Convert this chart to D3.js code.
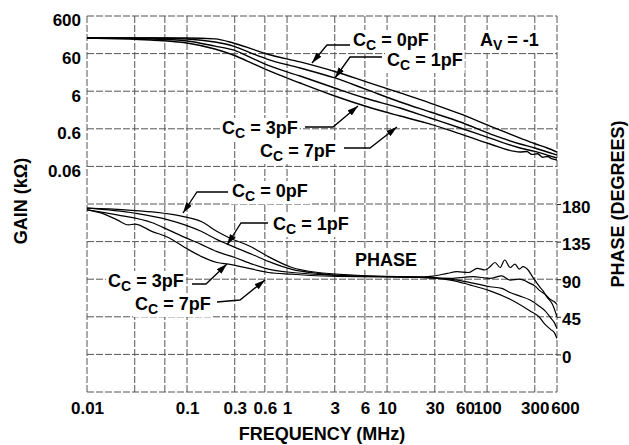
<!DOCTYPE html>
<html>
<head>
<meta charset="utf-8">
<script src="https://cdn.jsdelivr.net/npm/d3@7"></script>
<style>
body { margin:0; background:#fff; }
svg text { font-family:"Liberation Sans", Arial, Helvetica, sans-serif; font-weight:bold; fill:#000; }
</style>
</head>
<body>
<svg id="chart" width="629" height="445"></svg>
<script>

// frequency axis (MHz)
var freqTicks=[0.01,0.1,0.3,0.6,1,3,6,10,30,60,100,300,600];
var freqGrid=[0.03,0.06,0.1,0.3,0.6,1,3,6,10,30,60,100,300];
var gainTicks=[600,60,6,0.6,0.06];
var gainTickLabels=["600","60","6","0.6","0.06"];
var phaseTicks=[180,135,90,45,0];
var capLabels=["0pF","1pF","3pF","7pF"];

// gain curves, kOhm
var gainFreq=[0.01,0.043,0.1,0.19,0.29,0.45,0.63,1.35,3,6,13.5,27,54,107,214,300,400,500];
var gain0pF=[156,156,156,148,115,79,58.5,36,20,11,5.4,2.9,1.49,0.71,0.34,0.24,0.185,0.145];
var gain1pF=[156,156,147,122,95,60,43,24.8,13.5,6.9,3.1,1.68,0.91,0.44,0.237,0.185,0.145,0.121];
var gain3pF=[156,147,130,95,75,45,30,15.2,7.3,3.95,2.14,1.16,0.63,0.34,0.185,0.15,0.12,0.1];
var gain7pFFreq=[0.01,0.043,0.1,0.19,0.29,0.45,0.63,1.35,3,6,13.5,27,54,107,214,250,280,320,360,400,450,500];
var gain7pF=[156,138,115,79.5,55,33,22,9.9,4.47,2.42,1.31,0.8,0.44,0.237,0.145,0.15,0.125,0.13,0.105,0.11,0.095,0.089];

// phase curves, degrees
var phase0Freq=[0.01,0.024,0.045,0.095,0.14,0.2,0.26,0.45,0.65,1.12,2.04,4.5,19,29,40,50,65,80,95,107,120,135,150,170,190,210,229,257,288,330,363,400,450,500];
var phase0pF=[175,173,170.5,164.6,158.7,147,140,128,117,104,98,95,92.4,93.6,97,99,98,103,101,105,110,104,113,104,108,102,105,101,92,82,76,68,60,45];
var phase1Freq=[0.01,0.03,0.065,0.095,0.14,0.2,0.26,0.45,0.65,1.12,2.04,4.5,19,43,72,107,140,170,210,269,300,339,380,427,470,500];
var phase1pF=[175,169,161,155,147,137.4,131.4,119.6,111.3,101.8,97,93.6,92.4,91,93,91,94,89,90,85,82,76,72,66,63,60];
var phase3Freq=[0.01,0.02,0.045,0.065,0.095,0.14,0.2,0.3,0.45,0.65,1.12,2.7,19,43,68,107,140,170,210,269,330,380,430,470,500];
var phase3pF=[173,167,157.5,149,140,131.4,123,116,108,102,98,95,92.4,90,86,81,79,74,70,65,58,52,44,38,31];
var phase7Freq=[0.01,0.014,0.02,0.026,0.03,0.045,0.065,0.095,0.14,0.2,0.26,0.45,0.65,1.12,2.7,19,43,68,107,170,269,330,380,430,470,500];
var phase7pF=[173,169,161,155,156,147,140,128,117,110,108,102,98,96,93.6,92.4,89,83,76,66,52,45,36,30,26,19];

var svg=d3.select("#chart");
var plotL=87, plotR=557, plotT=16, plotB=392;

var x=d3.scaleLog().domain([0.01,500]).range([plotL,plotR]);
var yGain=d3.scaleLog().domain([6e-8,600]).range([plotB,plotT]);
var yPhase=d3.scaleLinear().domain([-45,405]).range([plotB,plotT]);

// grid
var grid=svg.append("g").attr("stroke","#555").attr("stroke-width",1).attr("stroke-dasharray","7,2").attr("fill","none");
var hLines=d3.range(0,11).map(function(k){ return 600*Math.pow(10,-k); });
grid.selectAll("line.h").data(hLines).enter().append("line")
	.attr("x1",plotL).attr("x2",plotR)
	.attr("y1",function(d){ return yGain(d); }).attr("y2",function(d){ return yGain(d); });
grid.selectAll("line.v").data(freqGrid.concat([0.01,500])).enter().append("line")
	.attr("y1",plotT).attr("y2",plotB)
	.attr("x1",function(d){ return x(d); }).attr("x2",function(d){ return x(d); });

// axes
var fs=17;
var bottomAxis=svg.append("g").attr("transform","translate(0,"+plotB+")")
	.call(d3.axisBottom(x).tickValues(freqTicks).tickSize(0).tickPadding(9.8).tickFormat(function(d){ return String(d); }));
var leftAxis=svg.append("g").attr("transform","translate("+plotL+",0)")
	.call(d3.axisLeft(yGain).tickValues(gainTicks).tickSize(0).tickPadding(6).tickFormat(function(d,i){ return gainTickLabels[i]; }));
var rightAxis=svg.append("g").attr("transform","translate("+plotR+",0)")
	.call(d3.axisRight(yPhase).tickValues(phaseTicks).tickSize(4).tickPadding(1).tickFormat(function(d){ return String(d); }));
[bottomAxis,leftAxis,rightAxis].forEach(function(a){
	a.select(".domain").remove();
	a.attr("font-family",null).attr("font-size",null);
	a.selectAll("text").style("font-size",fs+"px");
	});
leftAxis.selectAll("text").attr("dy","0.58em");
rightAxis.selectAll("text").attr("dy","0.47em");
rightAxis.selectAll("line").attr("stroke","#222");

svg.append("text").attr("x",(plotL+plotR)/2).attr("y",440).attr("text-anchor","middle")
	.style("font-size","18px").text("FREQUENCY (MHz)");
svg.append("text").attr("transform","translate(27,201) rotate(-90)").attr("text-anchor","middle")
	.style("font-size","18px").text("GAIN (k\u03A9)");
svg.append("text").attr("transform","translate(624,204) rotate(-90)").attr("text-anchor","middle")
	.style("font-size","18px").text("PHASE (DEGREES)");

// curves
svg.append("clipPath").attr("id","plotclip").append("rect")
	.attr("x",plotL).attr("y",plotT).attr("width",plotR-plotL).attr("height",plotB-plotT);
var curves=svg.append("g").attr("clip-path","url(#plotclip)");

var gainLine=d3.line().x(function(d){ return x(d[0]); }).y(function(d){ return yGain(d[1]); }).curve(d3.curveMonotoneX);
var phaseLine=d3.line().x(function(d){ return x(d[0]); }).y(function(d){ return yPhase(d[1]); }).curve(d3.curveMonotoneX);

var gainSeries=[[gainFreq,gain0pF],[gainFreq,gain1pF],[gainFreq,gain3pF],[gain7pFFreq,gain7pF]];
var phaseSeries=[[phase0Freq,phase0pF],[phase1Freq,phase1pF],[phase3Freq,phase3pF],[phase7Freq,phase7pF]];

curves.selectAll("path.gain").data(gainSeries).enter().append("path")
	.attr("fill","none").attr("stroke","#000").attr("stroke-width",1.4)
	.attr("d",function(s){ return gainLine(d3.zip(s[0],s[1])); });
curves.selectAll("path.phase").data(phaseSeries).enter().append("path")
	.attr("fill","none").attr("stroke","#000").attr("stroke-width",1.2)
	.attr("d",function(s){ return phaseLine(d3.zip(s[0],s[1])); });

// callouts
svg.append("defs").append("marker").attr("id","arrow")
	.attr("viewBox","0 0 10 6").attr("refX",10).attr("refY",3)
	.attr("markerWidth",11).attr("markerHeight",6.5).attr("markerUnits","userSpaceOnUse")
	.attr("orient","auto")
	.append("path").attr("d","M0,0L10,3L0,6Z").attr("fill","#000");

var callouts=[
	{cap:0, tx:353, ty:46, pts:[[350,45],[327,45],[312,63]]},
	{cap:1, tx:387, ty:66, pts:[[382,57],[350,57],[335,78]]},
	{cap:2, tx:222, ty:134, pts:[[305,127],[333,127],[358,106]]},
	{cap:3, tx:260, ty:157, pts:[[344,148],[370,148],[397,127]]},
	{cap:0, tx:232, ty:197, pts:[[228,192],[197,192],[183,213]]},
	{cap:1, tx:273, ty:230, pts:[[268,223],[241,223],[227,245]]},
	{cap:2, tx:108, ty:287, pts:[[192,284],[206,284],[227,264]]},
	{cap:3, tx:135, ty:310, pts:[[217,302],[240,300],[265,280]]}
	];

var notes=svg.append("g");
function subLabel(g,tx,ty,main,sub,rest)
	{
	var t=g.append("text").attr("x",tx).attr("y",ty).style("font-size","18px");
	t.append("tspan").text(main);
	t.append("tspan").attr("dy",4).style("font-size","14px").text(sub);
	t.append("tspan").attr("dy",-4).text(rest);
	return t;
	}
function whiteBox(g,t)
	{
	var b=t.node().getBBox();
	g.insert("rect","text").attr("x",b.x-2).attr("y",b.y).attr("width",b.width+4).attr("height",b.height).attr("fill","#fff");
	}

callouts.forEach(function(c){
	var g=notes.append("g");
	var t=subLabel(g,c.tx,c.ty,"C","C"," = "+capLabels[c.cap]);
	whiteBox(g,t);
	g.append("path").attr("d",d3.line()(c.pts)).attr("fill","none").attr("stroke","#000")
		.attr("stroke-width",1.3).attr("marker-end","url(#arrow)");
	});

var av=notes.append("g");
whiteBox(av,subLabel(av,480,46,"A","V"," = -1"));
var ph=notes.append("g");
var pt=ph.append("text").attr("x",355).attr("y",266).style("font-size","18px").text("PHASE");
whiteBox(ph,pt);

</script>
</body>
</html>
